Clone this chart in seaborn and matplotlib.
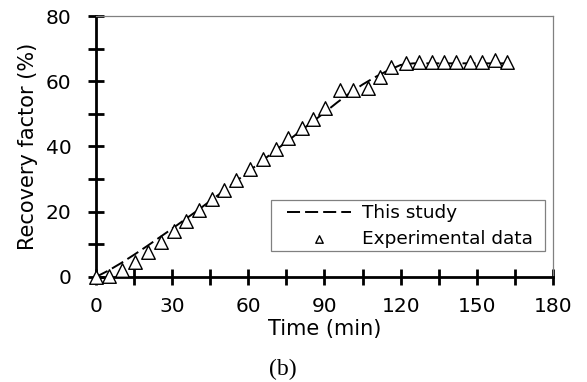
import numpy as np
import pandas as pd
import matplotlib
matplotlib.use("Agg")
import matplotlib.pyplot as plt
import seaborn as sns
from matplotlib.ticker import MultipleLocator
from matplotlib.patches import Rectangle

# Experimental data
exp_time = [0, 5.2, 10.1, 15.4, 20.3, 25.6, 30.8, 35.4, 40.5, 45.8, 50.5, 55.3, 60.6, 65.9,
            71.1, 75.7, 81.0, 85.5, 90.2, 96.0, 101.3, 107.2, 111.8, 116.4, 122.0, 127.3,
            132.2, 137.0, 142.0, 147.2, 152.2, 157.0, 161.9]
exp_rf = [0.0, 0.3, 2.1, 4.7, 7.6, 10.6, 14.1, 17.2, 20.5, 23.8, 26.7, 29.8, 33.0, 36.1,
          39.2, 42.5, 45.6, 48.4, 51.7, 57.4, 57.4, 57.9, 61.3, 64.5, 65.7, 66.0,
          66.0, 66.0, 66.0, 66.0, 66.0, 66.5, 66.0]

# Model ("This study")
model_time = [0, 5, 10, 15, 20, 25, 30, 35, 40, 45, 50, 55, 60, 65, 70, 75, 80, 85, 90,
              95, 100, 105, 110, 115, 120, 125, 130, 135, 140, 145, 150, 155, 160, 163]
model_rf = [0.0, 2.0, 4.3, 6.8, 9.4, 12.1, 14.8, 17.6, 20.4, 23.3, 26.2, 29.2, 32.3, 35.3,
            38.4, 41.4, 44.4, 47.4, 50.4, 53.5, 56.4, 59.0, 61.3, 63.3, 65.0, 65.5,
            65.5, 65.5, 65.5, 65.5, 65.5, 65.5, 65.5, 65.5]

xticks = [0, 30, 60, 90, 120, 150, 180]
yticks = [0, 20, 40, 60, 80]

sns.set_style("white")
plt.rcParams['font.family'] = ['DejaVu Sans']
plt.rcParams['text.color'] = 'black'
plt.rcParams['axes.labelcolor'] = 'black'
plt.rcParams['xtick.color'] = 'black'
plt.rcParams['ytick.color'] = 'black'

fig = plt.figure(figsize=(5.87, 3.82), dpi=100)
ax = fig.add_axes([0.1635, 0.275, 0.7785, 0.683])

dfm = pd.DataFrame({"t": model_time, "rf": model_rf})
dfe = pd.DataFrame({"t": exp_time, "rf": exp_rf})

sns.lineplot(data=dfm, x="t", y="rf", ax=ax, color="black", lw=1.4,
             dashes=False, label="This study")
ax.lines[0].set_dashes([6.7, 2.6])
sns.scatterplot(data=dfe, x="t", y="rf", ax=ax, marker="^", s=95,
                facecolor="white", edgecolor="black", linewidth=1.0,
                label="Experimental data", clip_on=False, zorder=3)

ax.set_xlim(0, 180)
ax.set_ylim(0, 80)
ax.set_xticks(xticks)
ax.set_yticks(yticks)
ax.xaxis.set_minor_locator(MultipleLocator(15))
ax.yaxis.set_minor_locator(MultipleLocator(10))
ax.tick_params(which="both", direction="inout", length=11, width=2, color="black",
               labelsize=14.5, labelcolor="black")
ax.tick_params(axis="x", which="both", pad=9)
ax.tick_params(axis="y", which="both", pad=12)
ax.tick_params(axis="both", which="both", bottom=True, left=True, top=False, right=False)

for s in ["left", "bottom"]:
    ax.spines[s].set_color("black")
    ax.spines[s].set_linewidth(2)
for s in ["top", "right"]:
    ax.spines[s].set_color("#808080")
    ax.spines[s].set_linewidth(0.9)

ax.set_xlabel("Time (min)", fontsize=15, labelpad=2)
ax.set_ylabel("Recovery factor (%)", fontsize=15, labelpad=6)

# legend frame
ax.add_patch(Rectangle((0.383, 0.0996), 0.5995, 0.195, transform=ax.transAxes,
                       facecolor="white", edgecolor="#808080", linewidth=0.9, zorder=4))
leg = ax.legend(loc="center left", bbox_to_anchor=(0.418, 0.195), fontsize=13.3,
                frameon=False, handlelength=3.46, handletextpad=0.6, borderpad=0,
                labelspacing=0.4, markerscale=0.55, borderaxespad=0)
leg.set_zorder(5)

fig.text(0.482, 1 - 369 / 382, "(b)", family="Liberation Serif", fontsize=17,
         ha="center", va="center")

fig.savefig("out.png", dpi=100)
